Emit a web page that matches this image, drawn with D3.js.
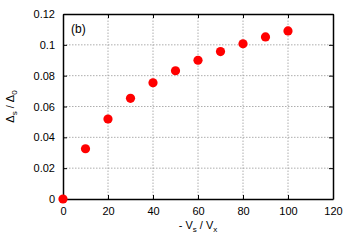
<!DOCTYPE html>
<html><head><meta charset="utf-8">
<script src="https://cdn.jsdelivr.net/npm/d3@7"></script>
<style>body{margin:0;background:#fff}svg{display:block}text{font-family:"Liberation Sans",Arial,sans-serif}</style>
</head><body>
<script>
const xValues = [0, 10, 20, 30, 40, 50, 60, 70, 80, 90, 100];
const yValues = [0, 0.0326, 0.0519, 0.0653, 0.0754, 0.0832, 0.0900, 0.0956, 0.1007, 0.1051, 0.1090];
const xTicks = [0, 20, 40, 60, 80, 100, 120];
const yTicks = [0, 0.02, 0.04, 0.06, 0.08, 0.1, 0.12];
const yTickLabels = ["0", "0.02", "0.04", "0.06", "0.08", "0.1", "0.12"];

const W = 354, H = 248;
const m = {l: 63, r: 21, t: 14, b: 49};
const svg = d3.select("body").append("svg").attr("width", W).attr("height", H);
const x = d3.scaleLinear().domain([0, 120]).range([m.l, W - m.r]);
const y = d3.scaleLinear().domain([0, 0.12]).range([H - m.b, m.t]);

// grid
const g = svg.append("g");
g.selectAll(".gx").data(xTicks.slice(1, -1)).join("line")
  .attr("x1", d => x(d)).attr("x2", d => x(d)).attr("y1", y(0)).attr("y2", y(0.12))
  .attr("stroke", "#999").attr("stroke-width", 0.8).attr("stroke-dasharray", "1.5,1.5");
g.selectAll(".gy").data(yTicks.slice(1, -1)).join("line")
  .attr("y1", d => y(d)).attr("y2", d => y(d)).attr("x1", x(0)).attr("x2", x(120))
  .attr("stroke", "#999").attr("stroke-width", 0.8).attr("stroke-dasharray", "1.5,1.5");

// axes with inward ticks
const ax = svg.append("g").attr("transform", `translate(0,${y(0)})`)
  .call(d3.axisBottom(x).tickValues(xTicks).tickSizeInner(-4).tickSizeOuter(0).tickPadding(8));
const axT = svg.append("g").attr("transform", `translate(0,${y(0.12)})`)
  .call(d3.axisTop(x).tickValues(xTicks).tickSizeInner(-4).tickSizeOuter(0).tickFormat(""));
const ay = svg.append("g").attr("transform", `translate(${x(0)},0)`)
  .call(d3.axisLeft(y).tickValues(yTicks).tickSizeInner(-4).tickSizeOuter(0).tickPadding(8)
    .tickFormat((d, i) => yTickLabels[i]));
const ayR = svg.append("g").attr("transform", `translate(${x(120)},0)`)
  .call(d3.axisRight(y).tickValues(yTicks).tickSizeInner(-4).tickSizeOuter(0).tickFormat(""));
[ax, axT, ay, ayR].forEach(a => {
  a.select(".domain").attr("stroke", "#000").attr("stroke-width", 1.5);
  a.selectAll(".tick line").attr("stroke", "#000").attr("stroke-width", 1);
  a.selectAll("text").attr("font-size", 11).attr("fill", "#000")
    .style("font-family", '"Liberation Sans",Arial,sans-serif');
});

// points
svg.selectAll(".pt").data(xValues).join("circle")
  .attr("cx", d => x(d)).attr("cy", (d, i) => y(yValues[i])).attr("r", 4.6).attr("fill", "#ff0000");

// (b)
svg.append("text").attr("x", 71).attr("y", 33).attr("font-size", 12).text("(b)");

// x label
const xl = svg.append("text").attr("x", x(60)).attr("y", 229).attr("text-anchor", "middle").attr("font-size", 11);
xl.append("tspan").text("- V");
xl.append("tspan").attr("font-size", 8).attr("dy", 3).text("s");
xl.append("tspan").attr("dy", -3).text(" / V");
xl.append("tspan").attr("font-size", 8).attr("dy", 3).text("x");

// y label
const yl = svg.append("text").attr("transform", `translate(14,${y(0.06)}) rotate(-90)`)
  .attr("text-anchor", "middle").attr("font-size", 11);
yl.append("tspan").text("Δ");
yl.append("tspan").attr("font-size", 8).attr("dy", 3).text("s");
yl.append("tspan").attr("dy", -3).text(" / Δ");
yl.append("tspan").attr("font-size", 8).attr("dy", 3).text("0");
</script>
</body></html>
